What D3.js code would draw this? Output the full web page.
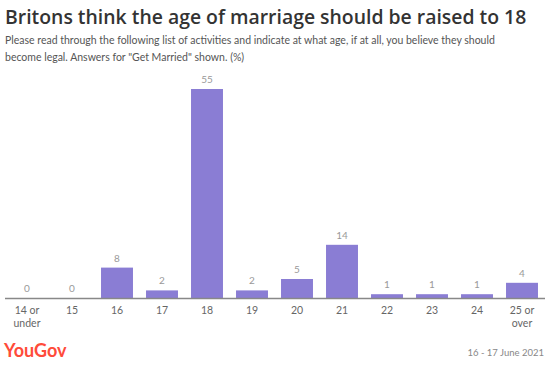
<!DOCTYPE html>
<html>
<head>
<meta charset="utf-8">
<script src="https://cdn.jsdelivr.net/npm/d3@7"></script>
<style>
  body { margin: 0; background: #fff; font-family: Lato, "Open Sans", sans-serif; }
</style>
</head>
<body>
<svg id="chart" width="558" height="371"></svg>
<script>
const categories = ["14 or\nunder", "15", "16", "17", "18", "19", "20", "21", "22", "23", "24", "25 or\nover"];
const values = [0, 0, 8, 2, 55, 2, 5, 14, 1, 1, 1, 4];

const svg = d3.select("#chart");

// header
svg.append("text")
  .attr("x", 5).attr("y", 24)
  .attr("font-family", "'Open Sans', sans-serif")
  .attr("font-size", 19.4).attr("font-weight", 600).attr("fill", "#333")
  .text("Britons think the age of marriage should be raised to 18");

const sub = svg.append("text")
  .attr("x", 5).attr("font-size", 10.5).attr("fill", "#555");
sub.append("tspan").attr("x", 5).attr("y", 44)
  .text("Please read through the following list of activities and indicate at what age, if at all, you believe they should");
sub.append("tspan").attr("x", 5).attr("y", 61)
  .text("become legal. Answers for \"Get Married\" shown. (%)");

// scales
const base = 298;
const x = d3.scaleBand().domain(categories).range([4.5, 544.5]).paddingInner(0.29).paddingOuter(0.145);
const y = d3.scaleLinear().domain([0, 55]).range([base, 89]);

svg.append("g").selectAll("rect")
  .data(values)
  .join("rect")
  .attr("x", (d, i) => x(categories[i]))
  .attr("y", d => y(d))
  .attr("width", x.bandwidth())
  .attr("height", d => base - y(d))
  .attr("fill", "#8a7dd4");

svg.append("g").selectAll("text")
  .data(values)
  .join("text")
  .attr("x", (d, i) => x(categories[i]) + x.bandwidth() / 2)
  .attr("y", d => y(d) - 6)
  .attr("text-anchor", "middle")
  .attr("font-size", 10).attr("fill", "#999")
  .text(d => d);

// x axis
const axis = svg.append("g")
  .attr("transform", `translate(0,${base})`)
  .call(d3.axisBottom(x).tickSize(0).tickFormat(""));
axis.select(".domain").attr("stroke", "#888").attr("stroke-width", 1.5);

const labels = svg.append("g").selectAll("text")
  .data(categories)
  .join("text")
  .attr("x", d => x(d) + x.bandwidth() / 2)
  .attr("y", 314)
  .attr("text-anchor", "middle")
  .attr("font-size", 10.5).attr("fill", "#666");
labels.each(function (d) {
  const t = d3.select(this);
  d.split("\n").forEach((line, i) => {
    t.append("tspan").attr("x", x(d) + x.bandwidth() / 2).attr("dy", i ? 13 : 0).text(line);
  });
});

// footer
svg.append("text")
  .attr("x", 4).attr("y", 357)
  .attr("font-size", 18).attr("font-weight", 700).attr("fill", "#ff4b3a")
  .text("YouGov");

svg.append("text")
  .attr("x", 544).attr("y", 356)
  .attr("text-anchor", "end")
  .attr("font-size", 9.5).attr("fill", "#888")
  .text("16 - 17 June 2021");
</script>
</body>
</html>
